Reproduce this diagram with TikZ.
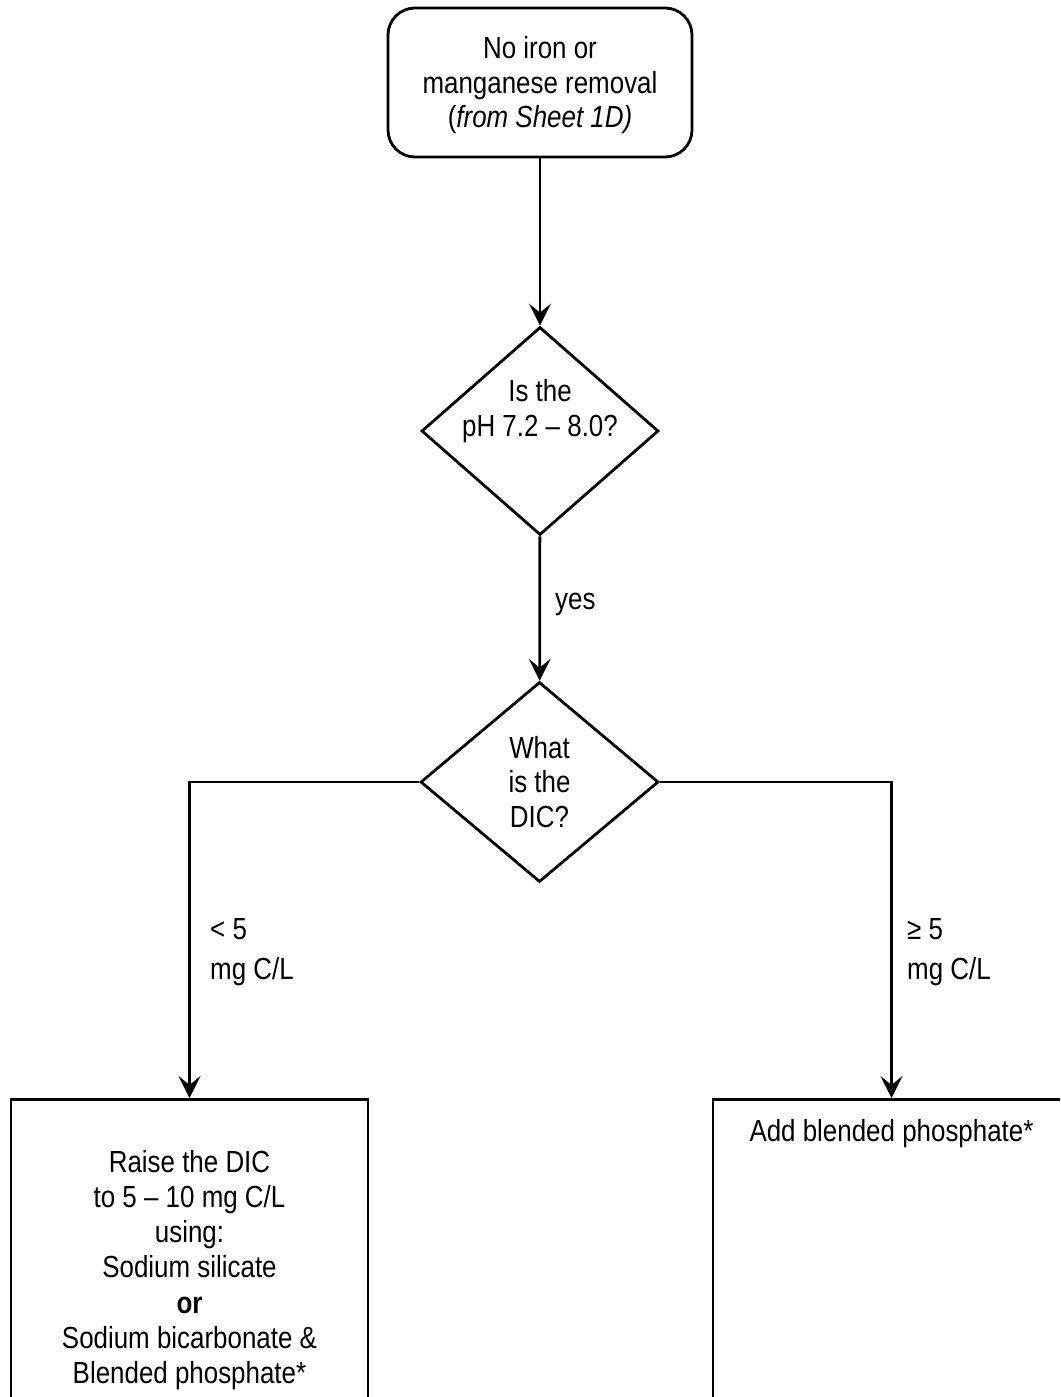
\documentclass[tikz,border=0pt]{standalone}
\usepackage{fontspec}
\setmainfont{Liberation Sans}[FakeStretch=0.85]
\usetikzlibrary{shapes.geometric,arrows.meta}
\begin{document}
\begin{tikzpicture}[x=1pt,y=-1pt,
  every node/.style={font=\fontsize{30.5}{34.5}\selectfont, inner sep=0pt},
  arr/.style={line width=2.8pt,-{Stealth[length=22pt,width=22pt,inset=9pt]}},
  startbox/.style={draw,line width=2.8pt,rounded corners=27pt,minimum width=304pt,minimum height=149pt},
  decide/.style={draw,diamond,line width=2.8pt},
  actbox/.style={draw,line width=2.8pt,minimum width=357pt,minimum height=360pt,anchor=north},
  lbl/.style={align=left,anchor=north west,font=\fontsize{30.5}{40}\selectfont}
]
\useasboundingbox (0,0) rectangle (1060,1397);
\clip (0,0) rectangle (1060,1397);

\node[startbox] (start) at (540,82.5) {};
\node[align=center] (startt) at (540,85.5) {No iron or\\manganese removal\\(\textit{from Sheet 1D)}};

\node[decide, minimum width=237pt, minimum height=208pt] (d1) at (540,431) {};
\node[align=center] (d1t) at (540,411) {Is the\\pH 7.2 – 8.0?};

\node[decide, minimum width=238pt, minimum height=200pt, align=center] (d2) at (539.5,782) {What\\is the\\DIC?};

\node[actbox] (lbox) at (189.5,1098) {};
\node[actbox] (rbox) at (891.5,1098) {};

\node[align=center, font=\fontsize{30.5}{35.3}\selectfont] (ltext) at (189.5,1270) {Raise the DIC\\to 5 – 10 mg C/L\\using:\\Sodium silicate\\\textbf{or}\\Sodium bicarbonate \&\\Blended phosphate*};
\node[anchor=base] (rtext) at (891.5,1141) {Add blended phosphate*};

\draw[arr] (start) -- (d1);
\draw[arr] (d1) -- (d2);
\node[anchor=base west] (yes) at (555,609) {yes};

\draw[arr] (d2.west) -| (lbox.north);
\draw[arr] (d2.east) -| (rbox.north);

\node[lbl] (lt) at (210,918) {< 5\\mg C/L};
\node[lbl] (ge) at (907,918) {≥ 5\\mg C/L};
\end{tikzpicture}
\end{document}
